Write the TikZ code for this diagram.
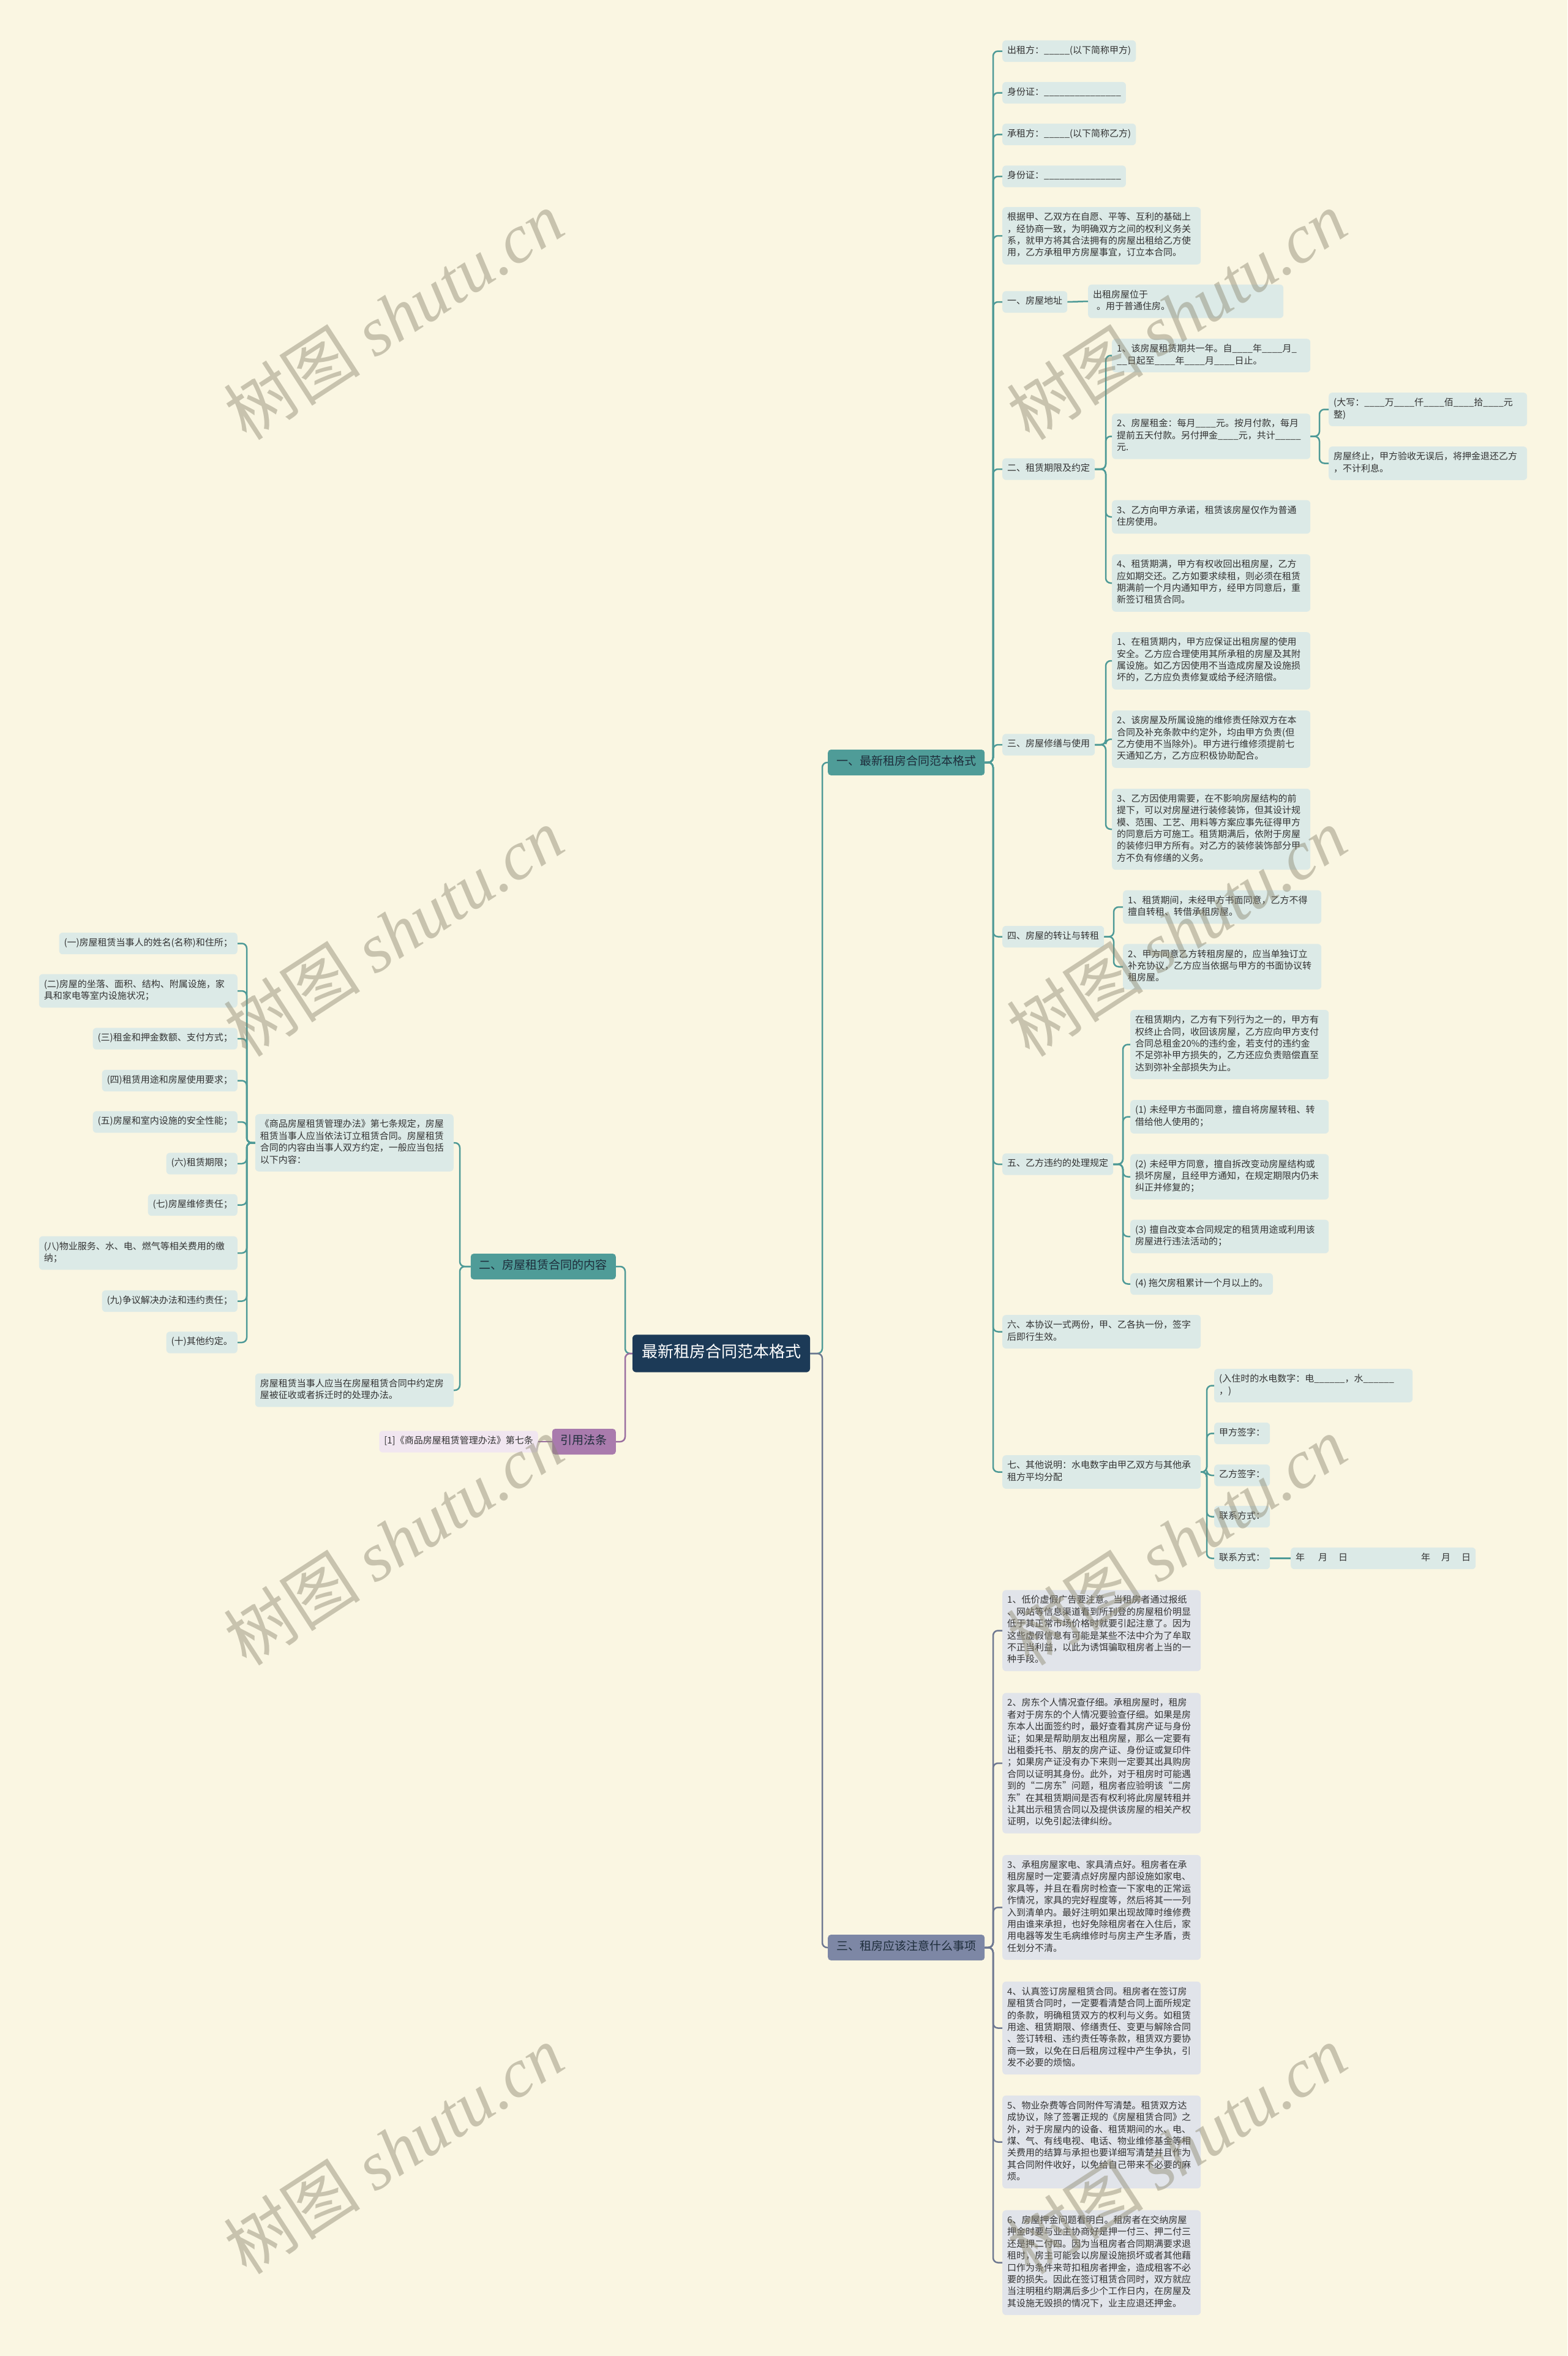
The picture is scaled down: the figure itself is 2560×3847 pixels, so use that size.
\documentclass[tikz,border=0pt]{standalone}
\usepackage{fontspec}
\setmainfont{Noto Sans CJK SC}
\newfontfamily\wmserif{Liberation Serif}
\definecolor{bg}{HTML}{FAF6E2}
\definecolor{leaffill}{HTML}{DCEAE7}
\definecolor{notefill}{HTML}{E1E4EA}
\definecolor{lawfill}{HTML}{F1E6F0}
\definecolor{tealnode}{HTML}{4F9C98}
\definecolor{slatenode}{HTML}{7D87A5}
\definecolor{purplenode}{HTML}{A97BAD}
\definecolor{rootfill}{HTML}{1C3A57}
\definecolor{tealline}{HTML}{4E9A97}
\definecolor{slateline}{HTML}{6E7891}
\definecolor{purpleline}{HTML}{9A6E9F}
\definecolor{txt}{HTML}{333333}
\definecolor{dark}{HTML}{1E2D3B}
\definecolor{wmcol}{HTML}{8C8770}
\tikzset{
  base/.style={rounded corners=6pt, inner xsep=8pt, inner ysep=8pt,
    font=\fontsize{15}{19.4}\selectfont, text=txt, align=left,
    execute at begin node=\strut, execute at end node=\strut},
  leaf/.style={base, fill=leaffill},
  wideleaf/.style={leaf, text width=308pt},
  note/.style={base, fill=notefill, text width=308pt},
  law/.style={base, fill=lawfill},
  lvone/.style={rounded corners=5pt, inner xsep=14pt, inner ysep=9pt,
    font=\fontsize{19}{24}\selectfont, text=dark,
    execute at begin node=\strut, execute at end node=\strut},
  rootnode/.style={rounded corners=6pt, inner xsep=15pt, inner ysep=15pt,
    fill=rootfill, text=white, font=\fontsize{26}{31}\selectfont,
    execute at begin node=\strut, execute at end node=\strut},
  conn/.style={line width=2.5pt, rounded corners=8pt},
  tconn/.style={conn, draw=tealline},
  sconn/.style={conn, draw=slateline},
  pconn/.style={conn, draw=purpleline},
  wm/.style={text=wmcol, text opacity=0.45, font=\fontsize{112}{120}\selectfont, inner sep=0pt}
}
\newcommand\rconn[4]{\draw[#1] (#2.east) -- (#3 |- #2.east) |- (#4.west);}
\newcommand\lconn[4]{\draw[#1] (#2.west) -- (#3 |- #2.west) |- (#4.east);}
\begin{document}
\begin{tikzpicture}[x=1pt,y=-1pt]
\fill[bg] (0,0) rectangle (2560,3847);
\useasboundingbox (0,0) rectangle (2560,3847);

% spines
\coordinate (sroR) at (1343,0);
\coordinate (sroL) at (1021,0);
\coordinate (sA) at (1622,0);
\coordinate (sA7) at (1806,0);
\coordinate (sB2) at (2155,0);
\coordinate (sA8) at (1806,0);
\coordinate (sA9) at (1819,0);
\coordinate (sA10) at (1834,0);
\coordinate (sA12) at (1971,0);
\coordinate (sL) at (751,0);
\coordinate (sK) at (403,0);

% root and level one
\node[rootnode] (root) at (1178,2210) {最新租房合同范本格式};
\node[lvone, fill=tealnode, anchor=west] (one) at (1352,1245) {一、最新租房合同范本格式};
\node[lvone, fill=slatenode, anchor=west] (three) at (1352,3180) {三、租房应该注意什么事项};
\node[lvone, fill=tealnode, anchor=east] (two) at (1006,2068) {二、房屋租赁合同的内容};
\node[lvone, fill=purplenode, anchor=east] (law) at (1006,2354) {引用法条};

% section one children
\node[leaf, anchor=west] (a1) at (1637,83.5) {出租方：\_\_\_\_\_(以下简称甲方)};
\node[leaf, anchor=west] (a2) at (1637,151.5) {身份证：\_\_\_\_\_\_\_\_\_\_\_\_\_\_\_};
\node[leaf, anchor=west] (a3) at (1637,219.5) {承租方：\_\_\_\_\_(以下简称乙方)};
\node[leaf, anchor=west] (a4) at (1637,288) {身份证：\_\_\_\_\_\_\_\_\_\_\_\_\_\_\_};
\node[wideleaf, anchor=west] (a5) at (1637,385) {根据甲、乙双方在自愿、平等、互利的基础上\\，经协商一致，为明确双方之间的权利义务关\\系，就甲方将其合法拥有的房屋出租给乙方使\\用，乙方承租甲方房屋事宜，订立本合同。};
\node[leaf, anchor=west] (a6) at (1637,493) {一、房屋地址};
\node[leaf, text width=303pt, anchor=west] (a6a) at (1777,492) {出租房屋位于\\\hspace{0.4em}。用于普通住房。};
\node[leaf, anchor=west] (a7) at (1637,766) {二、租赁期限及约定};
\node[wideleaf, anchor=west] (b1) at (1816,580.5) {1、该房屋租赁期共一年。自\_\_\_\_年\_\_\_\_月\_\\\_\_日起至\_\_\_\_年\_\_\_\_月\_\_\_\_日止。};
\node[wideleaf, anchor=west] (b2) at (1816,712.5) {2、房屋租金：每月\_\_\_\_元。按月付款，每月\\提前五天付款。另付押金\_\_\_\_元，共计\_\_\_\_\_\\元.};
\node[wideleaf, anchor=west] (c1) at (2170,668.5) {(大写：\_\_\_\_万\_\_\_\_仟\_\_\_\_佰\_\_\_\_拾\_\_\_\_元\\整)};
\node[wideleaf, anchor=west] (c2) at (2170,756.5) {房屋终止，甲方验收无误后，将押金退还乙方\\，不计利息。};
\node[wideleaf, anchor=west] (b3) at (1816,844) {3、乙方向甲方承诺，租赁该房屋仅作为普通\\住房使用。};
\node[wideleaf, anchor=west] (b4) at (1816,952) {4、租赁期满，甲方有权收回出租房屋，乙方\\应如期交还。乙方如要求续租，则必须在租赁\\期满前一个月内通知甲方，经甲方同意后，重\\新签订租赁合同。};
\node[leaf, anchor=west] (a8) at (1637,1216) {三、房屋修缮与使用};
\node[wideleaf, anchor=west] (d1) at (1816,1079) {1、在租赁期内，甲方应保证出租房屋的使用\\安全。乙方应合理使用其所承租的房屋及其附\\属设施。如乙方因使用不当造成房屋及设施损\\坏的，乙方应负责修复或给予经济赔偿。};
\node[wideleaf, anchor=west] (d2) at (1816,1207) {2、该房屋及所属设施的维修责任除双方在本\\合同及补充条款中约定外，均由甲方负责(但\\乙方使用不当除外)。甲方进行维修须提前七\\天通知乙方，乙方应积极协助配合。};
\node[wideleaf, anchor=west] (d3) at (1816,1354) {3、乙方因使用需要，在不影响房屋结构的前\\提下，可以对房屋进行装修装饰，但其设计规\\模、范围、工艺、用料等方案应事先征得甲方\\的同意后方可施工。租赁期满后，依附于房屋\\的装修归甲方所有。对乙方的装修装饰部分甲\\方不负有修缮的义务。};
\node[leaf, anchor=west] (a9) at (1637,1529.5) {四、房屋的转让与转租};
\node[wideleaf, anchor=west] (e1) at (1834,1481) {1、租赁期间，未经甲方书面同意，乙方不得\\擅自转租、转借承租房屋。};
\node[wideleaf, anchor=west] (e2) at (1834,1578.5) {2、甲方同意乙方转租房屋的，应当单独订立\\补充协议，乙方应当依据与甲方的书面协议转\\租房屋。};
\node[leaf, anchor=west] (a10) at (1637,1901) {五、乙方违约的处理规定};
\node[wideleaf, anchor=west] (f1) at (1846,1705.5) {在租赁期内，乙方有下列行为之一的，甲方有\\权终止合同，收回该房屋，乙方应向甲方支付\\合同总租金20\%的违约金，若支付的违约金\\不足弥补甲方损失的，乙方还应负责赔偿直至\\达到弥补全部损失为止。};
\node[wideleaf, anchor=west] (f2) at (1846,1823.5) {(1) 未经甲方书面同意，擅自将房屋转租、转\\借给他人使用的；};
\node[wideleaf, anchor=west] (f3) at (1846,1921.5) {(2) 未经甲方同意，擅自拆改变动房屋结构或\\损坏房屋，且经甲方通知，在规定期限内仍未\\纠正并修复的；};
\node[wideleaf, anchor=west] (f4) at (1846,2019) {(3) 擅自改变本合同规定的租赁用途或利用该\\房屋进行违法活动的；};
\node[leaf, anchor=west] (f5) at (1846,2096.5) {(4) 拖欠房租累计一个月以上的。};
\node[wideleaf, anchor=west] (a11) at (1637,2174.5) {六、本协议一式两份，甲、乙各执一份，签字\\后即行生效。};
\node[wideleaf, anchor=west] (a12) at (1637,2403.5) {七、其他说明：水电数字由甲乙双方与其他承\\租方平均分配};
\node[wideleaf, anchor=west] (g1) at (1983,2262.5) {(入住时的水电数字：电\_\_\_\_\_\_，水\_\_\_\_\_\_\\，)};
\node[leaf, anchor=west] (g2) at (1983,2340.5) {甲方签字：};
\node[leaf, anchor=west] (g3) at (1983,2409) {乙方签字：};
\node[leaf, anchor=west] (g4) at (1983,2476.5) {联系方式：};
\node[leaf, anchor=west] (g5) at (1983,2544.5) {联系方式：};
\node[leaf, anchor=west] (g6) at (2108,2544.5) {年\hspace{22pt}月\hspace{18pt}日\hspace{120pt}年\hspace{18pt}月\hspace{18pt}日};

% section three children
\node[note, anchor=west] (h1) at (1637,2662.5) {1、低价虚假广告要注意。当租房者通过报纸\\、网站等信息渠道看到所刊登的房屋租价明显\\低于其正常市场价格时就要引起注意了。因为\\这些虚假信息有可能是某些不法中介为了牟取\\不正当利益，以此为诱饵骗取租房者上当的一\\种手段。};
\node[note, anchor=west] (h2) at (1637,2879) {2、房东个人情况查仔细。承租房屋时，租房\\者对于房东的个人情况要验查仔细。如果是房\\东本人出面签约时，最好查看其房产证与身份\\证；如果是帮助朋友出租房屋，那么一定要有\\出租委托书、朋友的房产证、身份证或复印件\\；如果房产证没有办下来则一定要其出具购房\\合同以证明其身份。此外，对于租房时可能遇\\到的“二房东”问题，租房者应验明该“二房\\东”在其租赁期间是否有权利将此房屋转租并\\让其出示租赁合同以及提供该房屋的相关产权\\证明，以免引起法律纠纷。};
\node[note, anchor=west] (h3) at (1637,3114.5) {3、承租房屋家电、家具清点好。租房者在承\\租房屋时一定要清点好房屋内部设施如家电、\\家具等，并且在看房时检查一下家电的正常运\\作情况，家具的完好程度等，然后将其一一列\\入到清单内。最好注明如果出现故障时维修费\\用由谁来承担，也好免除租房者在入住后，家\\用电器等发生毛病维修时与房主产生矛盾，责\\任划分不清。};
\node[note, anchor=west] (h4) at (1637,3311.5) {4、认真签订房屋租赁合同。租房者在签订房\\屋租赁合同时，一定要看清楚合同上面所规定\\的条款，明确租赁双方的权利与义务。如租赁\\用途、租赁期限、修缮责任、变更与解除合同\\、签订转租、违约责任等条款，租赁双方要协\\商一致，以免在日后租房过程中产生争执，引\\发不必要的烦恼。};
\node[note, anchor=west] (h5) at (1637,3497.5) {5、物业杂费等合同附件写清楚。租赁双方达\\成协议，除了签署正规的《房屋租赁合同》之\\外，对于房屋内的设备、租赁期间的水、电、\\煤、气、有线电视、电话、物业维修基金等相\\关费用的结算与承担也要详细写清楚并且作为\\其合同附件收好，以免给自己带来不必要的麻\\烦。};
\node[note, anchor=west] (h6) at (1637,3694.5) {6、房屋押金问题看明白。租房者在交纳房屋\\押金时要与业主协商好是押一付三、押二付三\\还是押二付四。因为当租房者合同期满要求退\\租时，房主可能会以房屋设施损坏或者其他藉\\口作为条件来苛扣租房者押金，造成租客不必\\要的损失。因此在签订租赁合同时，双方就应\\当注明租约期满后多少个工作日内，在房屋及\\其设施无毁损的情况下，业主应退还押金。};

% left side
\node[wideleaf, anchor=east] (k0) at (741,1866) {《商品房屋租赁管理办法》第七条规定，房屋\\租赁当事人应当依法订立租赁合同。房屋租赁\\合同的内容由当事人双方约定，一般应当包括\\以下内容：};
\node[wideleaf, anchor=east] (k11) at (741,2270) {房屋租赁当事人应当在房屋租赁合同中约定房\\屋被征收或者拆迁时的处理办法。};
\node[leaf, anchor=east] (k1) at (388,1540.5) {(一)房屋租赁当事人的姓名(名称)和住所；};
\node[wideleaf, anchor=east] (k2) at (388,1618) {(二)房屋的坐落、面积、结构、附属设施，家\\具和家电等室内设施状况；};
\node[leaf, anchor=east] (k3) at (388,1696) {(三)租金和押金数额、支付方式；};
\node[leaf, anchor=east] (k4) at (388,1764.5) {(四)租赁用途和房屋使用要求；};
\node[leaf, anchor=east] (k5) at (388,1832) {(五)房屋和室内设施的安全性能；};
\node[leaf, anchor=east] (k6) at (388,1900) {(六)租赁期限；};
\node[leaf, anchor=east] (k7) at (388,1967.5) {(七)房屋维修责任；};
\node[wideleaf, anchor=east] (k8) at (388,2046) {(八)物业服务、水、电、燃气等相关费用的缴\\纳；};
\node[leaf, anchor=east] (k9) at (388,2124.5) {(九)争议解决办法和违约责任；};
\node[leaf, anchor=east] (k10) at (388,2192) {(十)其他约定。};
\node[law, anchor=east] (l1) at (879,2354) {[1]《商品房屋租赁管理办法》第七条};

% connectors: root
\rconn{tconn}{root}{sroR}{one}
\rconn{sconn}{root}{sroR}{three}
\lconn{tconn}{root}{sroL}{two}
\lconn{pconn}{root}{sroL}{law}

% section one
\foreach \c in {a1,a2,a3,a4,a5,a6,a7,a8,a9,a10,a11,a12}{\rconn{tconn}{one}{sA}{\c}}
\draw[tconn] (a6.east) -- (a6a.west);
\foreach \c in {b1,b2,b3,b4}{\rconn{tconn}{a7}{sA7}{\c}}
\foreach \c in {c1,c2}{\rconn{tconn}{b2}{sB2}{\c}}
\foreach \c in {d1,d2,d3}{\rconn{tconn}{a8}{sA8}{\c}}
\foreach \c in {e1,e2}{\rconn{tconn}{a9}{sA9}{\c}}
\foreach \c in {f1,f2,f3,f4,f5}{\rconn{tconn}{a10}{sA10}{\c}}
\foreach \c in {g1,g2,g3,g4,g5}{\rconn{tconn}{a12}{sA12}{\c}}
\draw[tconn] (g5.east) -- (g6.west);

% section three
\foreach \c in {h1,h2,h3,h4,h5,h6}{\rconn{sconn}{three}{sA}{\c}}

% left
\lconn{tconn}{two}{sL}{k0}
\lconn{tconn}{two}{sL}{k11}
\foreach \c in {k1,k2,k3,k4,k5,k6,k7,k8,k9,k10}{\lconn{tconn}{k0}{sK}{\c}}
\draw[pconn] (law.west) -- (l1.east);

% watermarks
\node[wm, rotate=33] (w1) at (643,515) {树图 {\wmserif\itshape shutu.cn}};
\node[wm, rotate=33] (w2) at (1922,515) {树图 {\wmserif\itshape shutu.cn}};
\node[wm, rotate=33] (w3) at (643,1522) {树图 {\wmserif\itshape shutu.cn}};
\node[wm, rotate=33] (w4) at (1922,1522) {树图 {\wmserif\itshape shutu.cn}};
\node[wm, rotate=33] (w5) at (643,2516) {树图 {\wmserif\itshape shutu.cn}};
\node[wm, rotate=33] (w6) at (1922,2516) {树图 {\wmserif\itshape shutu.cn}};
\node[wm, rotate=33] (w7) at (643,3510) {树图 {\wmserif\itshape shutu.cn}};
\node[wm, rotate=33] (w8) at (1922,3510) {树图 {\wmserif\itshape shutu.cn}};
\end{tikzpicture}
\end{document}
